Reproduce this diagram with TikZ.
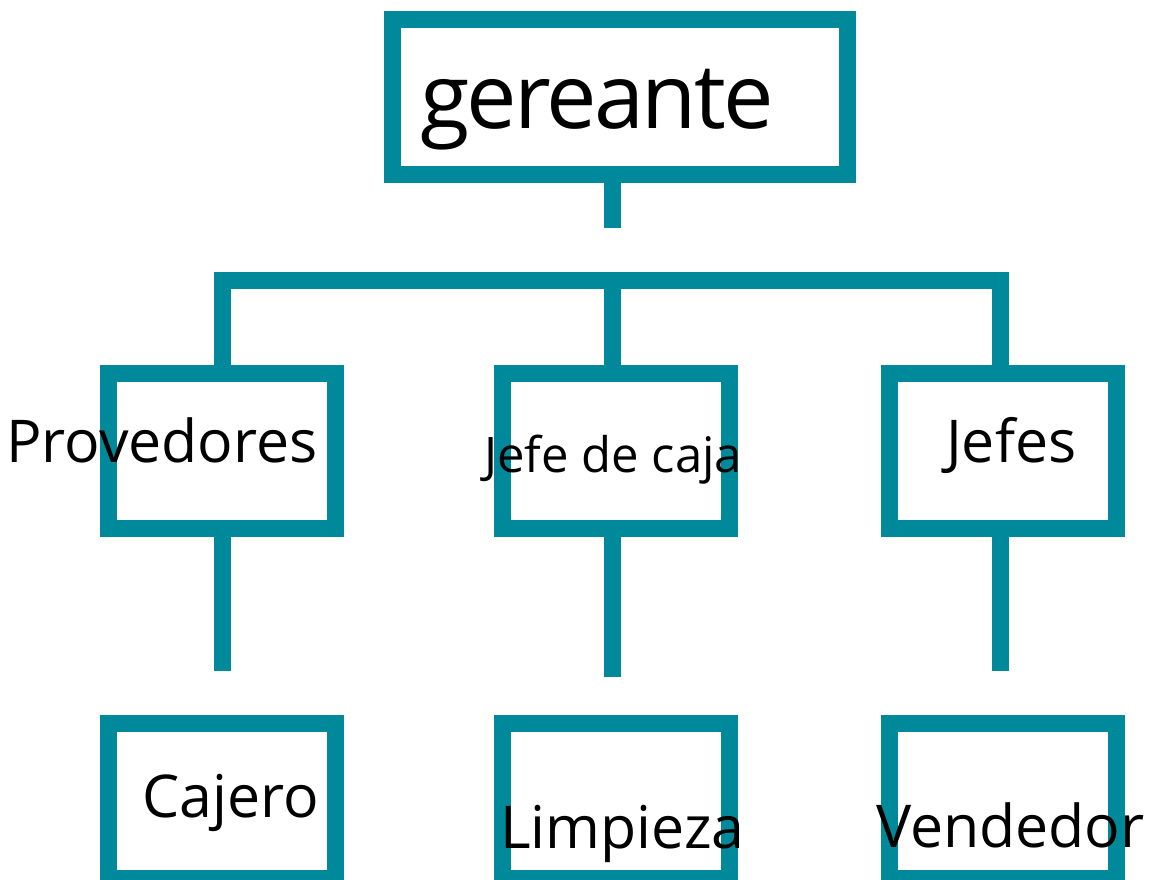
\documentclass[tikz,border=0pt]{standalone}
\usepackage{fontspec}
\setmainfont{Open Sans}
\newfontfamily\tightfont[LetterSpace=-3]{Open Sans}
\definecolor{teal1}{RGB}{0,137,154}
\begin{document}
\begin{tikzpicture}[x=1pt,y=-1pt,
  box/.style={draw=teal1,line width=17pt,minimum width=227pt,minimum height=155pt,inner sep=0pt},
  conn/.style={draw=teal1,line width=17pt,line join=miter},
  lbl/.style={anchor=base west,inner sep=0pt,font=\fontsize{59}{59}\selectfont}]
\useasboundingbox (0,0) rectangle (1150,879);
% boxes
\node[box,minimum width=455pt] (top) at (620,97) {};
\node[box] (p) at (222,451) {};
\node[box] (j) at (615.5,451) {};
\node[box] (s) at (1003,451) {};
\node[box] (c) at (222,801) {};
\node[box] (l) at (615.5,801) {};
\node[box] (v) at (1003,801) {};
% coordinates
\coordinate (stem) at (612,228);
\coordinate (b1) at (222,280);
\coordinate (b2) at (612,280);
\coordinate (b3) at (1000,280);
\coordinate (d1) at (222,671);
\coordinate (d2) at (612,677);
\coordinate (d3) at (1000,671);
% connectors
\draw[conn] (612,183) -- (stem);
\draw[conn] (222,366) -- (b1) -- (b3) -- (1000,366);
\draw[conn] (b2) -- (612,366);
\draw[conn] (222,536) -- (d1);
\draw[conn] (612,536) -- (d2);
\draw[conn] (1000,536) -- (d3);
% labels
\node[anchor=base west,inner sep=0pt,font=\tightfont\fontsize{90}{90}\selectfont] (tg) at (420,128) {gereante};
\node[lbl] (tp) at (6,462) {Provedores};
\node[lbl,font=\fontsize{49}{49}\selectfont] (tj) at (484,472) {Jefe de caja};
\node[lbl] (ts) at (946,462) {Jefes};
\node[lbl] (tc) at (142,817) {Cajero};
\node[lbl] (tl) at (500,848) {Limpieza};
\node[lbl] (tv) at (876,847) {Vendedor};
\end{tikzpicture}
\end{document}
